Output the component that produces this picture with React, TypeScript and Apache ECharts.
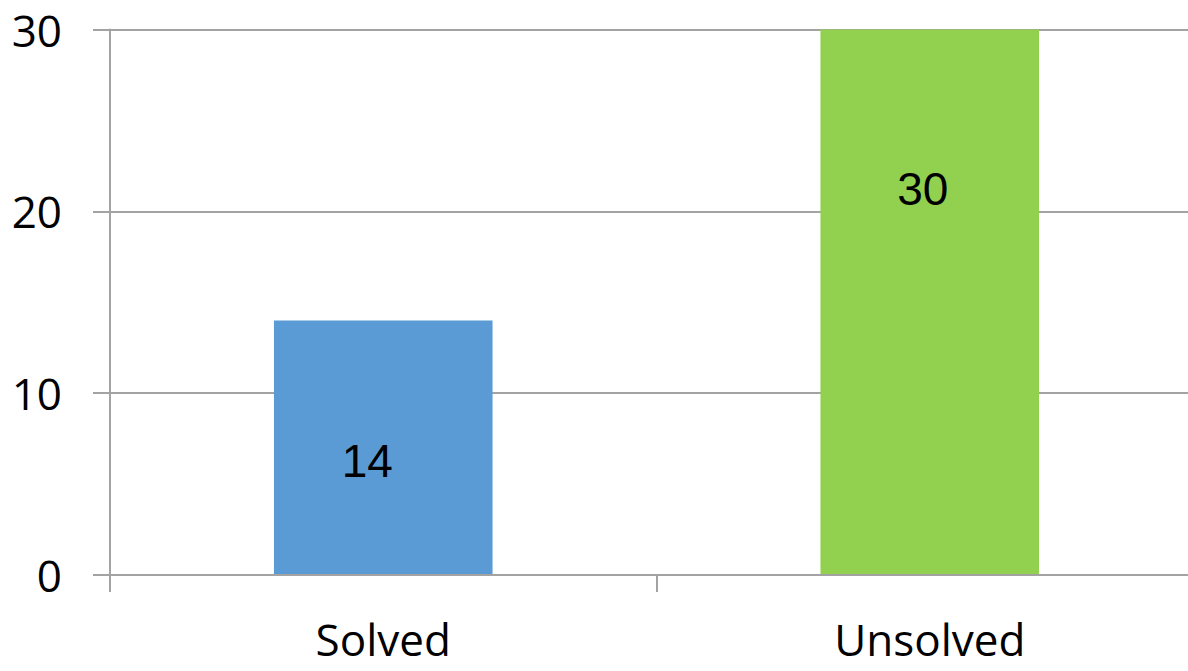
import React, { useEffect, useRef } from "react";
import * as echarts from "echarts";

const categories = ["Solved", "Unsolved"];
const values = [14, 30];
const barColors = ["#5B9BD5", "#92D050"];
const yTicks = { min: 0, max: 30, interval: 10 };
const labelOffsets: [number, number][] = [
  [-16, 13],
  [-7, -113],
];

export default function App() {
  const ref = useRef<HTMLDivElement>(null);
  useEffect(() => {
    if (!ref.current) return;
    const chart = echarts.init(ref.current, null, { renderer: "svg" });
    const gray = "#A3A3A3";
    chart.setOption({
      animation: false,
      backgroundColor: "#ffffff",
      grid: {
        left: 110,
        top: 29.5,
        width: 1093,
        height: 545.5,
        containLabel: false,
        outerBoundsMode: "none",
      },
      xAxis: {
        type: "category",
        data: categories,
        z: 5,
        boundaryGap: true,
        axisLine: { show: true, lineStyle: { color: gray, width: 2 } },
        axisTick: { show: true, length: 17, lineStyle: { color: gray, width: 2 } },
        axisLabel: {
          color: "#000",
          fontFamily: "Open Sans",
          fontSize: 44,
          margin: 42,
        },
        splitLine: { show: false },
      },
      yAxis: {
        type: "value",
        min: yTicks.min,
        max: yTicks.max,
        interval: yTicks.interval,
        axisLine: { show: true, lineStyle: { color: gray, width: 2 } },
        axisTick: { show: true, length: 17, lineStyle: { color: gray, width: 2 } },
        axisLabel: {
          color: "#000",
          fontFamily: "Open Sans",
          fontSize: 44,
          margin: 48,
        },
        splitLine: { show: true, lineStyle: { color: gray, width: 2 } },
      },
      series: [
        {
          type: "bar",
          barWidth: "40%",
          data: values.map((v, i) => ({
            value: v,
            itemStyle: { color: barColors[i] },
            label: { offset: labelOffsets[i] },
          })),
          label: {
            show: true,
            position: "inside",
            color: "#000",
            fontFamily: "Liberation Sans",
            fontSize: 46,
          },
        },
      ],
    });
    return () => chart.dispose();
  }, []);
  return (
    <div
      ref={ref}
      style={{ position: "absolute", left: 0, top: 0, width: 1188, height: 671 }}
    />
  );
}
